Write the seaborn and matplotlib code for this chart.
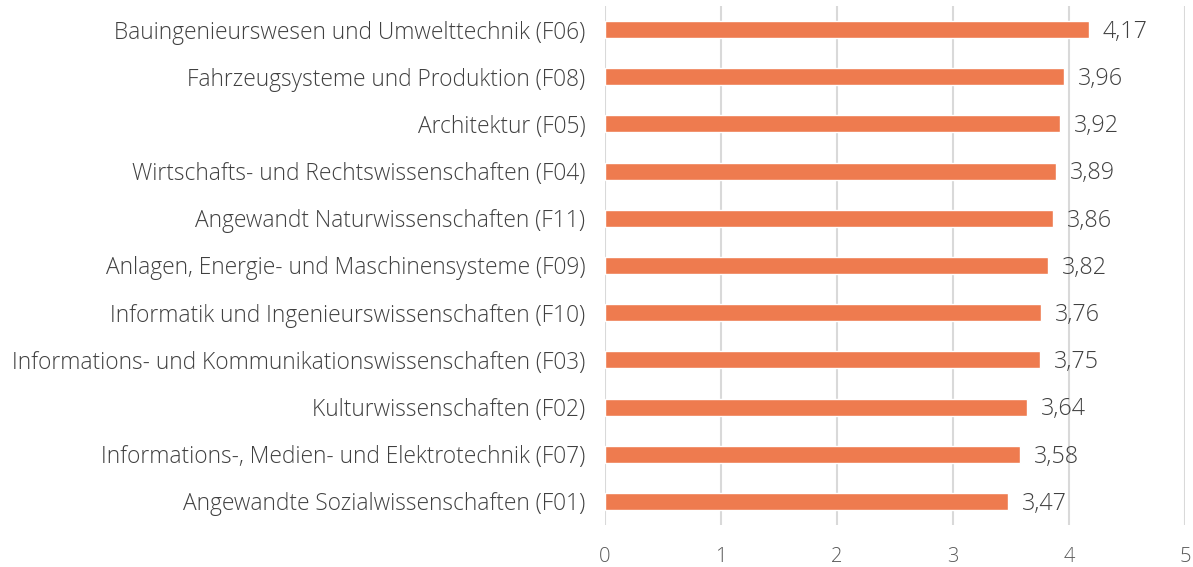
import matplotlib
matplotlib.use("Agg")
import matplotlib.pyplot as plt
import seaborn as sns
import pandas as pd

categories = [
    "Bauingenieurswesen und Umwelttechnik (F06)",
    "Fahrzeugsysteme und Produktion (F08)",
    "Architektur (F05)",
    "Wirtschafts- und Rechtswissenschaften (F04)",
    "Angewandt Naturwissenschaften (F11)",
    "Anlagen, Energie- und Maschinensysteme (F09)",
    "Informatik und Ingenieurswissenschaften (F10)",
    "Informations- und Kommunikationswissenschaften (F03)",
    "Kulturwissenschaften (F02)",
    "Informations-, Medien- und Elektrotechnik (F07)",
    "Angewandte Sozialwissenschaften (F01)",
]
values = [4.17, 3.96, 3.92, 3.89, 3.86, 3.82, 3.76, 3.75, 3.64, 3.58, 3.47]
x_ticks = [0, 1, 2, 3, 4, 5]

sns.set_style("white")
plt.rcParams["font.family"] = ["Open Sans", "DejaVu Sans"]

df = pd.DataFrame({"Fakultät": categories, "Wert": values})

fig = plt.figure(figsize=(11.93, 5.67), dpi=100)
ax = fig.add_axes([605 / 1193, 1 - 525 / 567, 580 / 1193, 519 / 567])

sns.barplot(data=df, x="Wert", y="Fakultät", orient="h", color="#EE7B4F",
            saturation=1, width=0.36, ax=ax, zorder=3)

ax.set_xlim(0, 5)
ax.set_ylim(len(categories) - 0.5, -0.5)
ax.set_xticks(x_ticks)
ax.set_xticklabels([str(t) for t in x_ticks], fontsize=14.5, color="#595959",
                   fontweight="light")
ax.tick_params(axis="x", length=0, pad=16)
ax.tick_params(axis="y", length=0, pad=14)
for lbl in ax.get_yticklabels():
    lbl.set_fontsize(16.4)
    lbl.set_color("#404040")
    lbl.set_fontweight("light")
ax.set_xlabel("")
ax.set_ylabel("")
for s in ax.spines.values():
    s.set_visible(False)
ax.grid(axis="x", color="#D9D9D9", linewidth=1.5, zorder=0)
ax.grid(axis="y", visible=False)
ax.set_axisbelow(True)

for i, v in enumerate(values):
    ax.text(v + 0.12, i + 0.05, f"{v:.2f}".replace(".", ","), va="center",
            ha="left", fontsize=16.8, color="#404040", fontweight="light")

fig.savefig("out.png", dpi=100)
